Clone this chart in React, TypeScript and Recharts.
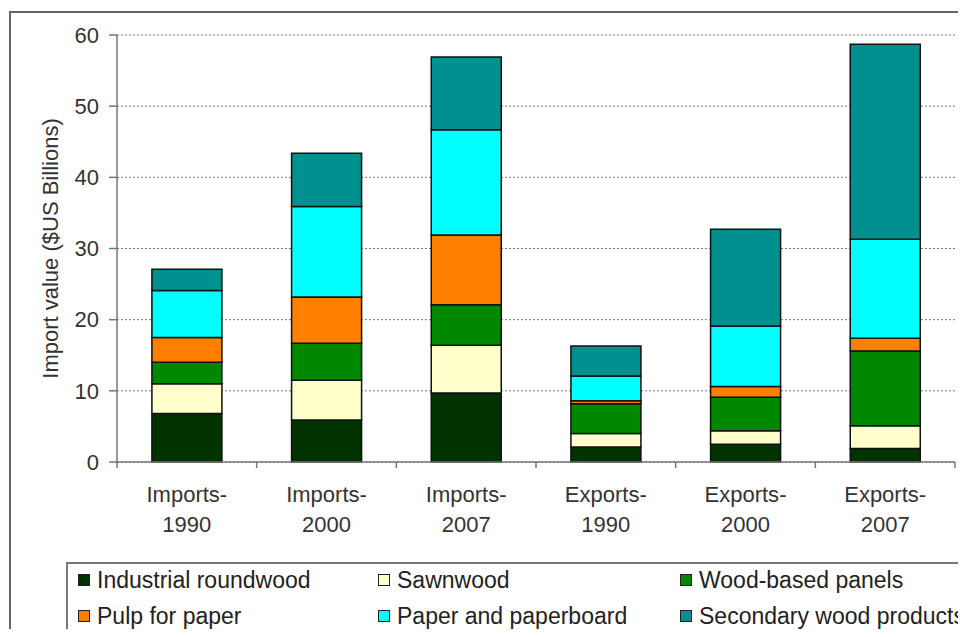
import React from 'react';
import { BarChart, Bar, XAxis, YAxis, CartesianGrid, Legend } from 'recharts';

// Trade flows by year, $US billions
const categories = ['Imports-1990', 'Imports-2000', 'Imports-2007', 'Exports-1990', 'Exports-2000', 'Exports-2007'];
const industrialRoundwood = [6.8, 5.9, 9.7, 2.1, 2.5, 1.9];
const sawnwood = [4.2, 5.6, 6.7, 1.9, 1.9, 3.2];
const woodBasedPanels = [3.0, 5.2, 5.7, 4.2, 4.7, 10.5];
const pulpForPaper = [3.5, 6.5, 9.8, 0.4, 1.5, 1.8];
const paperAndPaperboard = [6.6, 12.7, 14.8, 3.5, 8.5, 13.9];
const secondaryWoodProducts = [3.0, 7.5, 10.2, 4.2, 13.6, 27.4];
const yTicks = [0, 10, 20, 30, 40, 50, 60];

const series = [
  { key: 'roundwood', name: 'Industrial roundwood', color: '#003300', values: industrialRoundwood },
  { key: 'sawnwood', name: 'Sawnwood', color: '#FFFFCC', values: sawnwood },
  { key: 'panels', name: 'Wood-based panels', color: '#008800', values: woodBasedPanels },
  { key: 'pulp', name: 'Pulp for paper', color: '#FF7F00', values: pulpForPaper },
  { key: 'paper', name: 'Paper and paperboard', color: '#00FFFF', values: paperAndPaperboard },
  { key: 'secondary', name: 'Secondary wood products', color: '#009090', values: secondaryWoodProducts },
];

const data = categories.map((category, i) => {
  const row: Record<string, string | number> = { category };
  series.forEach((s) => {
    row[s.key] = s.values[i];
  });
  return row;
});

const WIDTH = 966;
const HEIGHT = 637;
const MARGIN = { top: 35, right: 11, left: 57, bottom: 95 };
const Y_AXIS_WIDTH = 60;
const HALF_BAND = (WIDTH - MARGIN.left - MARGIN.right - Y_AXIS_WIDTH) / categories.length / 2;
const AXIS_COLOR = '#777';
const TEXT_COLOR = '#333';
const FONT = '"Liberation Sans", Arial, sans-serif';

// Two-line category label, plus tick marks on the band edges (Excel style)
const CategoryTick = (props: any) => {
  const { x, y, payload, index } = props;
  const [flow, year] = String(payload.value).split('-');
  const axisY = y - 8;
  return (
    <g>
      <line x1={x - HALF_BAND} x2={x - HALF_BAND} y1={axisY} y2={axisY + 6} stroke={AXIS_COLOR} strokeWidth={1.5} />
      {index === categories.length - 1 && (
        <line x1={x + HALF_BAND} x2={x + HALF_BAND} y1={axisY} y2={axisY + 6} stroke={AXIS_COLOR} strokeWidth={1.5} />
      )}
      <text x={x} y={y} textAnchor="middle" fill={TEXT_COLOR} fontSize={22} fontFamily={FONT}>
        <tspan x={x} dy={32}>{flow}-</tspan>
        <tspan x={x} dy={30}>{year}</tspan>
      </text>
    </g>
  );
};

const legendCols = [10, 310, 612];

const LegendBox = () => (
  <div
    style={{
      position: 'relative',
      width: 940,
      height: 74,
      border: `2px solid ${AXIS_COLOR}`,
      boxSizing: 'border-box',
      background: '#fff',
      fontFamily: FONT,
      fontSize: 23,
      color: '#222',
    }}
  >
    {series.map((s, i) => (
      <div
        key={s.key}
        style={{
          position: 'absolute',
          left: legendCols[i % 3],
          top: i < 3 ? 4 : 40,
          height: 24,
          display: 'flex',
          alignItems: 'center',
          whiteSpace: 'nowrap',
        }}
      >
        <span
          style={{
            display: 'inline-block',
            width: 10,
            height: 10,
            background: s.color,
            border: '1px solid #222',
            marginRight: 7,
          }}
        />
        <span>{s.name}</span>
      </div>
    ))}
  </div>
);

export default function App() {
  return (
    <div
      style={{
        position: 'relative',
        width: WIDTH,
        height: HEIGHT,
        margin: -8,
        overflow: 'hidden',
        background: '#fff',
        fontFamily: FONT,
      }}
    >
      <div
        style={{
          position: 'absolute',
          left: 9,
          top: 11,
          width: 1100,
          height: 800,
          borderLeft: '2px solid #666',
          borderTop: '2px solid #666',
        }}
      />
      <div style={{ position: 'absolute', left: 0, top: 0 }}>
        <BarChart width={WIDTH} height={HEIGHT} data={data} margin={MARGIN} barCategoryGap="25%">
          <CartesianGrid vertical={false} stroke="#777" strokeDasharray="2 2" />
          <XAxis
            dataKey="category"
            height={80}
            interval={0}
            tickLine={false}
            axisLine={{ stroke: AXIS_COLOR, strokeWidth: 1.5 }}
            tick={<CategoryTick />}
          />
          <YAxis
            width={Y_AXIS_WIDTH}
            domain={[0, 60]}
            ticks={yTicks}
            interval={0}
            tickSize={8}
            tickMargin={10}
            axisLine={{ stroke: AXIS_COLOR, strokeWidth: 1.5 }}
            tickLine={{ stroke: AXIS_COLOR, strokeWidth: 1.5 }}
            tick={{ fill: TEXT_COLOR, fontSize: 22, fontFamily: FONT }}
            label={{
              value: 'Import value ($US Billions)',
              angle: -90,
              position: 'left',
              offset: 7,
              style: { textAnchor: 'middle', fill: TEXT_COLOR, fontSize: 22, fontFamily: FONT },
            }}
          />
          <Legend
            layout="horizontal"
            verticalAlign="middle"
            align="center"
            wrapperStyle={{ left: 66, top: 562, width: 940, height: 74 }}
            content={() => <LegendBox />}
          />
          {series.map((s) => (
            <Bar
              key={s.key}
              dataKey={s.key}
              name={s.name}
              stackId="trade"
              fill={s.color}
              stroke="#111"
              strokeWidth={1.5}
              isAnimationActive={false}
            />
          ))}
        </BarChart>
      </div>
    </div>
  );
}
